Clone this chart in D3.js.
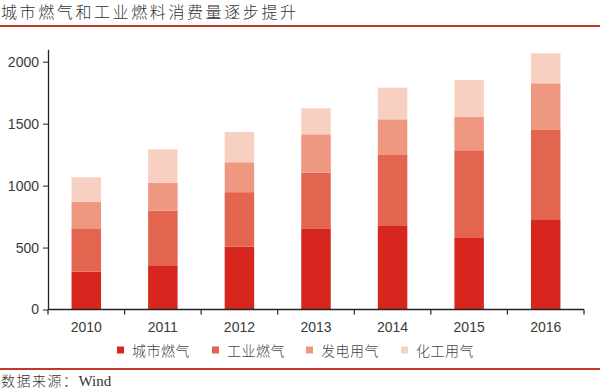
<!DOCTYPE html>
<html>
<head>
<meta charset="utf-8">
<script src="https://cdn.jsdelivr.net/npm/d3@7/dist/d3.min.js"></script>
<style>
  html, body { margin: 0; padding: 0; background: #fff; }
  svg { display: block; }
</style>
</head>
<body>
<script>
const title = "城市燃气和工业燃料消费量逐步提升";
const sourceLabel = "数据来源：";
const sourceName = "Wind";
const years = ["2010", "2011", "2012", "2013", "2014", "2015", "2016"];
const seriesNames = ["城市燃气", "工业燃气", "发电用气", "化工用气"];
const cityGas = [305, 351, 507, 650, 674, 577, 728];
const industryGas = [350, 446, 440, 454, 578, 708, 721];
const powerGas = [215, 226, 241, 310, 283, 271, 377];
const chemGas = [197, 270, 245, 210, 255, 296, 242];
const yTicks = [0, 500, 1000, 1500, 2000];
const colors = ["#d7261e", "#e3654f", "#ee9781", "#f8d0c2"];

const W = 600, H = 391;
const svg = d3.select("body").append("svg").attr("width", W).attr("height", H);

// title
svg.append("text").attr("x", 1).attr("y", 18)
  .attr("font-family", "'Noto Sans CJK SC', sans-serif").attr("font-weight", 300)
  .attr("font-size", 16).attr("letter-spacing", 2.6).attr("fill", "#333")
  .text(title);
svg.append("line").attr("x1", 0).attr("x2", W).attr("y1", 26).attr("y2", 26)
  .attr("stroke", "#c0392b").attr("stroke-width", 2);

const table = years.map((y, i) => ({ year: y, "城市燃气": cityGas[i], "工业燃气": industryGas[i], "发电用气": powerGas[i], "化工用气": chemGas[i] }));
const stacked = d3.stack().keys(seriesNames)(table);

const x = d3.scaleBand().domain(years).range([48, 584]).paddingInner(0.615).paddingOuter(0.3075);
const y = d3.scaleLinear().domain([0, 2100]).range([309.5, 49.3]);

const g = svg.append("g");
g.selectAll("g.s").data(stacked).join("g").attr("fill", (d, i) => colors[i])
  .selectAll("rect").data(d => d).join("rect")
  .attr("x", d => x(d.data.year))
  .attr("width", x.bandwidth())
  .attr("y", d => y(d[1]))
  .attr("height", d => y(d[0]) - y(d[1]));

// y axis
const yAxis = d3.axisLeft(y).tickValues(yTicks).tickFormat(d3.format("d")).tickSize(5).tickSizeOuter(0).tickPadding(4);
const ya = svg.append("g").attr("transform", "translate(48,0)").call(yAxis);
ya.select(".domain").attr("stroke", "#222").attr("stroke-width", 1.3);
ya.selectAll(".tick line").attr("stroke", "#222");
ya.selectAll("text").attr("font-family", "'Liberation Sans', Arial, sans-serif").attr("font-size", 14).attr("fill", "#3a3a3a");

// x axis: ticks between categories
const step = x.step();
const boundaries = d3.range(years.length + 1).map(i => 48 + i * step);
svg.append("line").attr("x1", 48).attr("x2", 584).attr("y1", 309.5).attr("y2", 309.5)
  .attr("stroke", "#222").attr("stroke-width", 1.3);
svg.selectAll("line.xt").data(boundaries).join("line").attr("class", "xt")
  .attr("x1", d => d).attr("x2", d => d).attr("y1", 309.5).attr("y2", 314.5)
  .attr("stroke", "#222").attr("stroke-width", 1.2);
svg.selectAll("text.xl").data(years).join("text").attr("class", "xl")
  .attr("x", d => x(d) + x.bandwidth() / 2).attr("y", 332)
  .attr("text-anchor", "middle")
  .attr("font-family", "'Liberation Sans', Arial, sans-serif").attr("font-size", 14).attr("fill", "#3a3a3a")
  .text(d => d);

// legend
const legendX = [117, 212, 306, 401];
const lg = svg.selectAll("g.lg").data(seriesNames).join("g").attr("class", "lg")
  .attr("transform", (d, i) => `translate(${legendX[i]},343)`);
lg.append("rect").attr("x", 0).attr("y", 3.5).attr("width", 7).attr("height", 7)
  .attr("fill", (d, i) => colors[i]);
lg.append("text").attr("x", 15).attr("y", 13)
  .attr("font-family", "'Noto Sans CJK SC', sans-serif").attr("font-weight", 300)
  .attr("font-size", 14).attr("letter-spacing", 0.5).attr("fill", "#444")
  .text(d => d);

// bottom line and source
svg.append("line").attr("x1", 0).attr("x2", W).attr("y1", 369).attr("y2", 369)
  .attr("stroke", "#c0392b").attr("stroke-width", 2);
const src = svg.append("text").attr("x", 1).attr("y", 386)
  .attr("font-size", 14).attr("fill", "#333");
src.append("tspan").attr("font-family", "'Noto Sans CJK SC', sans-serif").attr("font-weight", 300)
  .attr("letter-spacing", 1.5).text(sourceLabel);
src.append("tspan").attr("font-family", "'Liberation Serif', serif").attr("font-size", 15).text(sourceName);
</script>
</body>
</html>
